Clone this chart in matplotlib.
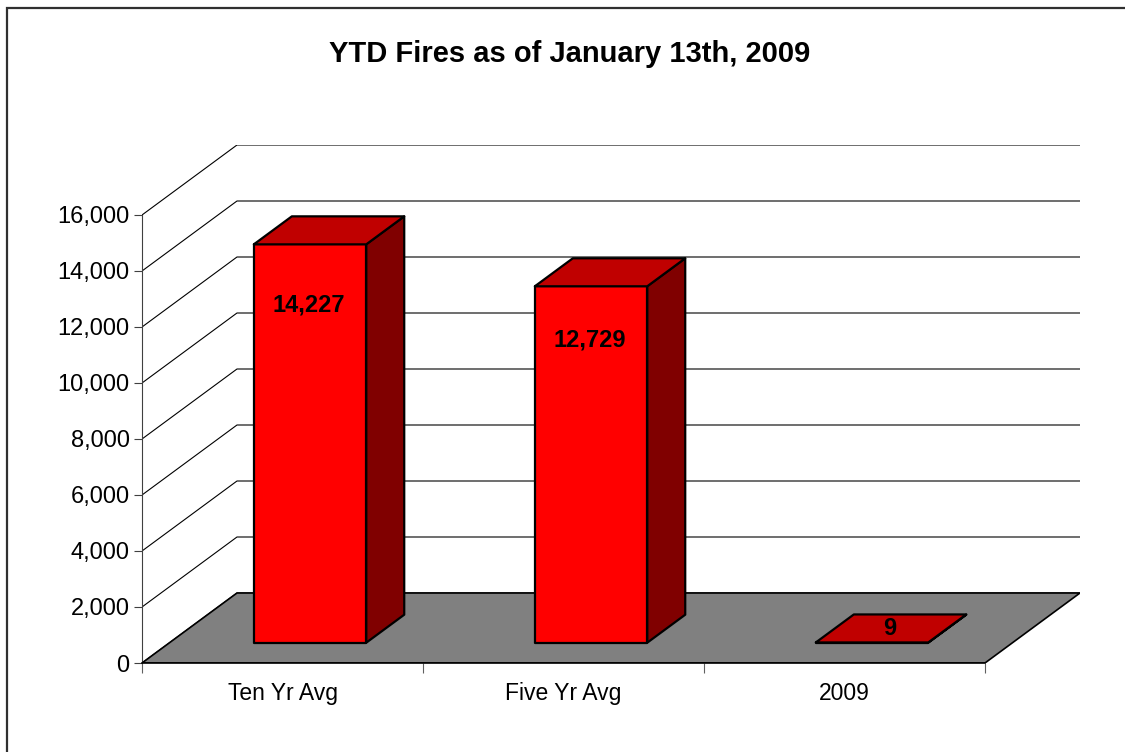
import matplotlib
matplotlib.use("Agg")
import matplotlib.pyplot as plt
from matplotlib.patches import Polygon, Rectangle
from matplotlib.ticker import FuncFormatter

plt.rcParams['font.family'] = ['Liberation Sans', 'DejaVu Sans']

categories = ["Ten Yr Avg", "Five Yr Avg", "2009"]
fires = [14227, 12729, 9]
yticks = [0, 2000, 4000, 6000, 8000, 10000, 12000, 14000, 16000]
title = "YTD Fires as of January 13th, 2009"

# pseudo 3d geometry (data units)
DX = 0.338      # depth shift in categories
DY = 2500       # depth shift in value units
bar_w = 0.4
d_front, d_back = 0.29, 0.69

fig = plt.figure(figsize=(11.25, 7.52), dpi=100)
ax = fig.add_axes([142 / 1125, 89 / 752, 938 / 1125, 518 / 752])
ax.set_xlim(-0.5, -0.5 + 938 / 281)
ax.set_ylim(0, 18500)

# back wall gridlines
xmax = ax.get_xlim()[1]
for v in yticks:
    ax.plot([-0.5, -0.5 + DX, xmax], [v, v + DY, v + DY], color="black", lw=0.8, zorder=1)

# floor
floor = Polygon([(-0.5, 0), (2.5, 0), (2.5 + DX, DY), (-0.5 + DX, DY)],
                closed=True, facecolor="#808080", edgecolor="black", lw=1.2, zorder=2)
ax.add_patch(floor)

# bars
dd = d_back - d_front
for i, v in enumerate(fires):
    xl = i - bar_w / 2 + d_front * DX
    xr = i + bar_w / 2 + d_front * DX
    base = d_front * DY
    top = base + v
    side = Polygon([(xr, base), (xr + dd * DX, base + dd * DY), (xr + dd * DX, top + dd * DY), (xr, top)],
                   closed=True, facecolor="#800000", edgecolor="black", lw=1.6, zorder=3, joinstyle="round")
    front = Polygon([(xl, base), (xr, base), (xr, top), (xl, top)],
                    closed=True, facecolor="#FF0000", edgecolor="black", lw=1.6, zorder=4, joinstyle="round")
    topf = Polygon([(xl, top), (xr, top), (xr + dd * DX, top + dd * DY), (xl + dd * DX, top + dd * DY)],
                   closed=True, facecolor="#C00000", edgecolor="black", lw=1.6, zorder=5, joinstyle="round")
    ax.add_patch(side)
    ax.add_patch(front)
    ax.add_patch(topf)
    # label on the front face if it fits, otherwise on the top face
    if v > 2000:
        lx, ly = i + d_front * DX, base + v * 0.848
    else:
        lx, ly = i + (d_front + dd / 2) * DX, (d_front + dd / 2) * DY + v
    ax.text(lx - 0.005, ly, f"{v:,}", ha="center", va="center", fontsize=17,
            fontweight="bold", color="black", zorder=6)

# axes
for s in ["top", "right"]:
    ax.spines[s].set_visible(False)
ax.spines["left"].set_bounds(0, 16000)
ax.spines["left"].set_color("#404040")
ax.spines["left"].set_zorder(1)
ax.spines["bottom"].set_bounds(-0.5, 2.5)
ax.spines["bottom"].set_color("black")
ax.spines["bottom"].set_linewidth(1.2)
ax.set_yticks(yticks)
ax.yaxis.set_major_formatter(FuncFormatter(lambda v, p: f"{int(v):,}"))
ax.tick_params(axis="y", length=6, width=0.8, color="#404040", labelsize=17, pad=3)
ax.set_xticks([0, 1, 2])
ax.set_xticklabels(categories)
ax.set_xticks([-0.5, 0.5, 1.5, 2.5], minor=True)
ax.tick_params(axis="x", which="major", length=0, labelsize=16.5, pad=14)
ax.tick_params(axis="x", which="minor", length=7, width=0.8, color="#606060")
ax.patch.set_visible(False)

fig.text(570 / 1125, 1 - 62 / 752, title, ha="center", va="baseline", fontsize=21, fontweight="bold")

# chart border
fig.patches.append(Rectangle((7 / 1125, -0.1), 1.2, 1.1 - 8 / 752, transform=fig.transFigure,
                             fill=False, edgecolor="#303030", lw=1.6))

fig.savefig("out.png", dpi=100)
